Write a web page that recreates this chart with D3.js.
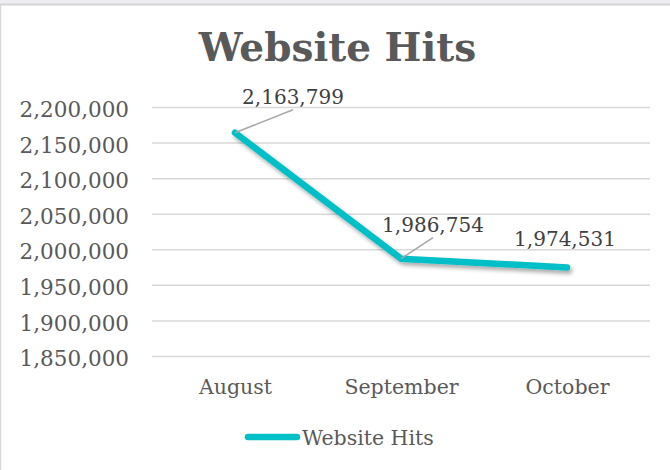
<!DOCTYPE html>
<html><head><meta charset="utf-8">
<script src="https://cdn.jsdelivr.net/npm/d3@7"></script>
<style>
html,body{margin:0;padding:0;background:#fff;}
svg{display:block;}
</style></head>
<body>
<svg id="chart" width="670" height="470"></svg>
<script>
const title = "Website Hits";
const seriesName = "Website Hits";
const categories = ["August", "September", "October"];
const values = [2163799, 1986754, 1974531];
const yTicks = [1850000, 1900000, 1950000, 2000000, 2050000, 2100000, 2150000, 2200000];

(function () {
const svg = d3.select("#chart");
const W = 670, H = 470;
const serif = "'DejaVu Serif', Georgia, serif";
const textCol = "#595959";
const lineCol = "#00BFC6";

svg.append("rect").attr("width", W).attr("height", H).attr("fill", "#fff");
svg.append("rect").attr("width", W).attr("height", 4).attr("fill", "#eceef2");
svg.append("line").attr("x1", 0).attr("x2", W).attr("y1", 4.5).attr("y2", 4.5).attr("stroke", "#d4d4d4").attr("stroke-width", 2);
svg.append("line").attr("x1", 0.5).attr("x2", 0.5).attr("y1", 4).attr("y2", H).attr("stroke", "#d9d9d9").attr("stroke-width", 1.5);

const defs = svg.append("defs");
const f = defs.append("filter").attr("id", "sh").attr("x", "-10%").attr("y", "-10%").attr("width", "130%").attr("height", "140%");
f.append("feDropShadow").attr("dx", 2).attr("dy", 3).attr("stdDeviation", 2).attr("flood-color", "#000").attr("flood-opacity", 0.35);

const pL = 152, pR = 650, pT = 107, pB = 356;
const x = d3.scalePoint().domain(categories).range([pL, pR]).padding(0.5);
const y = d3.scaleLinear().domain([1850000, 2200000]).range([pB, pT]);

// title
svg.append("text").attr("x", 337.5).attr("y", 61).attr("text-anchor", "middle")
  .attr("font-family", serif).attr("font-weight", "bold").attr("font-size", 39)
  .attr("fill", textCol).text(title);

// gridlines
const grid = svg.append("g").attr("transform", `translate(${pL},0)`)
  .call(d3.axisLeft(y).tickValues(yTicks).tickSize(-(pR - pL)).tickFormat(""));
grid.select(".domain").remove();
grid.selectAll("line").attr("stroke", "#d9d9d9").attr("stroke-width", 1.5);

// y labels
const ya = svg.append("g").attr("transform", `translate(${pL - 23},0)`)
  .call(d3.axisLeft(y).tickValues(yTicks).tickSize(0).tickPadding(0).tickFormat(d3.format(",")));
ya.select(".domain").remove();
ya.selectAll("text").attr("font-family", serif).attr("font-size", 21.5).attr("fill", textCol).attr("dy", "0.45em");

// x labels
const xa = svg.append("g").attr("transform", `translate(0,${pB})`)
  .call(d3.axisBottom(x).tickSize(0).tickPadding(0));
xa.select(".domain").remove();
xa.selectAll("text").attr("font-family", serif).attr("font-size", 20.5).attr("fill", textCol).attr("dy", 0).attr("y", 38);

// line
const pts = categories.map((c, i) => [x(c), y(values[i])]);
svg.append("path").datum(pts)
  .attr("d", d3.line())
  .attr("fill", "none").attr("stroke", lineCol).attr("stroke-width", 6.5)
  .attr("stroke-linecap", "round").attr("stroke-linejoin", "round")
  .attr("filter", "url(#sh)");

// data labels
const labelOffsets = [[58, -29, true], [32, -27, true], [-2, -21, false]];
const fmt = d3.format(",");
pts.forEach((p, i) => {
  const [dx, dy, leader] = labelOffsets[i];
  if (leader) {
    svg.append("line").attr("x1", p[0]).attr("y1", p[1])
      .attr("x2", p[0] + dx).attr("y2", p[1] + dy + 6)
      .attr("stroke", "#a6a6a6").attr("stroke-width", 1.5);
  }
  svg.append("text").attr("x", p[0] + dx).attr("y", p[1] + dy)
    .attr("text-anchor", "middle").attr("font-family", serif).attr("font-size", 20)
    .attr("fill", "#404040").text(fmt(values[i]));
});

// legend
svg.append("line").attr("x1", 248).attr("x2", 297).attr("y1", 437).attr("y2", 437)
  .attr("stroke", lineCol).attr("stroke-width", 6.5).attr("stroke-linecap", "round");
svg.append("text").attr("x", 302).attr("y", 445).attr("font-family", serif).attr("font-size", 20.5)
  .attr("fill", textCol).text(seriesName);
})();
</script>
</body></html>
